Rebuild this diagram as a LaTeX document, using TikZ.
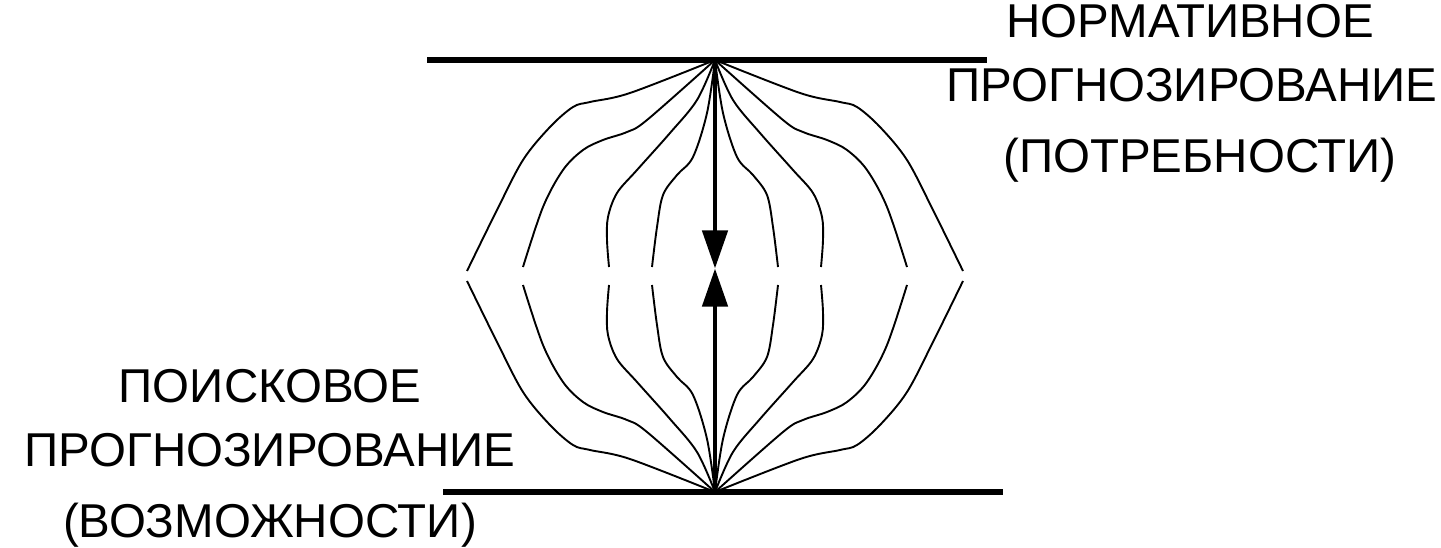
\documentclass[tikz,border=0pt]{standalone}
\usepackage{fontspec}
\setmainfont{Liberation Sans}
\usetikzlibrary{arrows.meta}
\tikzset{
  barline/.style={line width=5.5pt},
  fanline/.style={line width=1.9pt, line join=round},
  mainarrow/.style={line width=4.5pt, -{Triangle[length=38pt,width=25pt]}},
  lbl/.style={anchor=base, inner sep=0pt, font=\fontsize{47.5}{54}\selectfont}
}
\newcommand\myfan{%
  \draw[fanline] plot[smooth,tension=0.55] coordinates {(0,0) (-85,33) (-125,42) (-142,47) (-165,67) (-192,100) (-218,150) (-248,211)};
  \draw[fanline] plot[smooth,tension=0.55] coordinates {(0,0) (-68,60) (-88,72) (-112,80) (-132,90) (-152,110) (-172,147) (-192,207)};
  \draw[fanline] plot[smooth,tension=0.55] coordinates {(0,0) (-18,40) (-45,73) (-78,110) (-98,133) (-107,157) (-108,180) (-106,207)};
  \draw[fanline] plot[smooth,tension=0.55] coordinates {(0,0) (-8,53) (-22,97) (-38,115) (-52,135) (-58,167) (-63,207)};
}
\begin{document}
\begin{tikzpicture}[x=1pt,y=-1pt]
\useasboundingbox (0,0) rectangle (1441,548);
% anchor points
\coordinate (top) at (715,60);
\coordinate (bot) at (715,492);
\coordinate (mid) at (715,268.5);
\coordinate (tl) at (427,60);
\coordinate (tr) at (987,60);
\coordinate (bl) at (443,492);
\coordinate (br) at (1003,492);
% bars
\draw[barline] (tl) -- (tr);
\draw[barline] (bl) -- (br);
% fans
\begin{scope}[shift={(top)}] \myfan \end{scope}
\begin{scope}[shift={(top)}, xscale=-1] \myfan \end{scope}
\begin{scope}[shift={(bot)}, yscale=-1] \myfan \end{scope}
\begin{scope}[shift={(bot)}, xscale=-1, yscale=-1] \myfan \end{scope}
% arrows
\draw[mainarrow] (top) -- (mid);
\draw[mainarrow] (bot) -- (mid);
% labels
\node[lbl] (n1) at (1190,38) {НОРМАТИВНОЕ};
\node[lbl] (n2) at (1192,102) {ПРОГНОЗИРОВАНИЕ};
\node[lbl] (n3) at (1200,173) {(ПОТРЕБНОСТИ)};
\node[lbl] (p1) at (270,402) {ПОИСКОВОЕ};
\node[lbl] (p2) at (270,466) {ПРОГНОЗИРОВАНИЕ};
\node[lbl] (p3) at (270,537) {(ВОЗМОЖНОСТИ)};
\end{tikzpicture}
\end{document}
